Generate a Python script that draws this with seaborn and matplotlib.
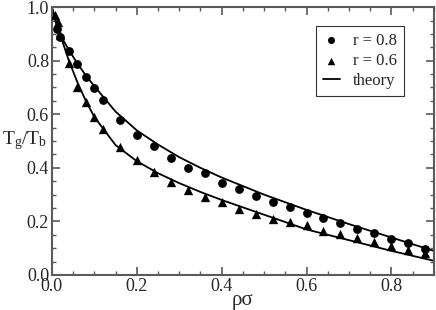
import numpy as np
import pandas as pd
import matplotlib
matplotlib.use('Agg')
import matplotlib.pyplot as plt
import seaborn as sns
from matplotlib.ticker import MultipleLocator

# simulation points, r = 0.8 (circles)
rho_08 = [0.012, 0.02, 0.04, 0.06, 0.08, 0.10, 0.12, 0.16, 0.20, 0.24, 0.28, 0.32,
          0.36, 0.40, 0.44, 0.48, 0.52, 0.56, 0.60, 0.64, 0.68, 0.72, 0.76, 0.80,
          0.84, 0.88]
T_08 = [0.918, 0.89, 0.838, 0.789, 0.741, 0.699, 0.654, 0.579, 0.524, 0.481, 0.438,
        0.398, 0.379, 0.345, 0.321, 0.295, 0.273, 0.253, 0.232, 0.211, 0.194, 0.173,
        0.156, 0.135, 0.118, 0.097]

# simulation points, r = 0.6 (triangles)
rho_06 = [0.008, 0.014, 0.02, 0.04, 0.06, 0.08, 0.10, 0.12, 0.16, 0.20, 0.24, 0.28,
          0.32, 0.36, 0.40, 0.44, 0.48, 0.52, 0.56, 0.60, 0.64, 0.68, 0.72, 0.76,
          0.80, 0.84, 0.88]
T_06 = [0.97, 0.944, 0.896, 0.792, 0.703, 0.644, 0.588, 0.544, 0.477, 0.428, 0.384,
        0.346, 0.317, 0.29, 0.272, 0.246, 0.226, 0.208, 0.197, 0.185, 0.165, 0.153,
        0.137, 0.123, 0.109, 0.094, 0.083]

# theory curves
rho_th = [0.0, 0.01, 0.02, 0.04, 0.06, 0.08, 0.10, 0.15, 0.20, 0.25, 0.30, 0.35,
          0.40, 0.50, 0.60, 0.70, 0.80, 0.90]
T_th_08 = [1.0, 0.94, 0.895, 0.84, 0.79, 0.745, 0.705, 0.61, 0.54, 0.487, 0.44,
           0.40, 0.364, 0.30, 0.243, 0.19, 0.14, 0.09]
T_th_06 = [1.0, 0.945, 0.895, 0.80, 0.72, 0.65, 0.59, 0.485, 0.425, 0.38, 0.343,
           0.31, 0.28, 0.225, 0.17, 0.13, 0.09, 0.053]

sns.set_style('ticks')
plt.rcParams['font.family'] = ['Liberation Serif', 'DejaVu Serif']
plt.rcParams['mathtext.fontset'] = 'custom'
plt.rcParams['mathtext.rm'] = 'Liberation Serif'
plt.rcParams['mathtext.it'] = 'Liberation Serif:italic'

fig = plt.figure(figsize=(4.36, 3.10), dpi=100)
ax = fig.add_axes([0.119, 0.113, 0.876, 0.864])

sns.lineplot(x=rho_th, y=T_th_08, color='black', lw=1.3, ax=ax, label='theory')
sns.lineplot(x=rho_th, y=T_th_06, color='black', lw=1.3, ax=ax, label='_nolegend_')
sns.scatterplot(x=rho_08, y=T_08, marker='o', s=40, color='black', edgecolor='black',
                linewidth=0, ax=ax, label='r = 0.8', zorder=3)
sns.scatterplot(x=rho_06, y=T_06, marker='^', s=45, color='black', edgecolor='black',
                linewidth=0, ax=ax, label='r = 0.6', zorder=3)

ax.set_xlim(0, 0.9)
ax.set_ylim(0, 1.0)
ax.xaxis.set_major_locator(MultipleLocator(0.2))
ax.xaxis.set_minor_locator(MultipleLocator(0.05))
ax.yaxis.set_major_locator(MultipleLocator(0.2))
ax.yaxis.set_minor_locator(MultipleLocator(0.05))
ax.set_xticks([0.0, 0.2, 0.4, 0.6, 0.8])
ax.set_xticklabels(['0.0', '0.2', '0.4', '0.6', '0.8'])
ax.set_yticks([0.0, 0.2, 0.4, 0.6, 0.8, 1.0])
ax.set_yticklabels(['0.0', '0.2', '0.4', '0.6', '0.8', '1.0'])

frame_col = '#5a5a5a'
for sp in ax.spines.values():
    sp.set_visible(True)
    sp.set_color(frame_col)
    sp.set_linewidth(1.5)
ax.tick_params(which='both', direction='in', top=True, right=True, color=frame_col,
               labelsize=13, pad=2)
ax.tick_params(which='major', length=6, width=1.2)
ax.tick_params(which='minor', length=3, width=1.0)

ax.set_xlabel('ρσ', fontsize=15, labelpad=-3)
ax.set_ylabel('T$_\\mathrm{g}$/T$_\\mathrm{b}$', fontsize=14, rotation=0,
              ha='left', va='center')
ax.yaxis.set_label_coords(-0.13, 0.5)

h, l = ax.get_legend_handles_labels()
order = [l.index('r = 0.8'), l.index('r = 0.6'), l.index('theory')]
leg = ax.legend([h[i] for i in order], [l[i] for i in order], loc='upper right',
                bbox_to_anchor=(0.921, 0.929), borderaxespad=0, fontsize=12,
                frameon=True, fancybox=False, edgecolor='black', handlelength=1.0,
                handletextpad=0.8, borderpad=0.4, labelspacing=0.25, markerscale=0.8)
leg.get_frame().set_linewidth(0.8)

fig.savefig('out.png', dpi=100)
